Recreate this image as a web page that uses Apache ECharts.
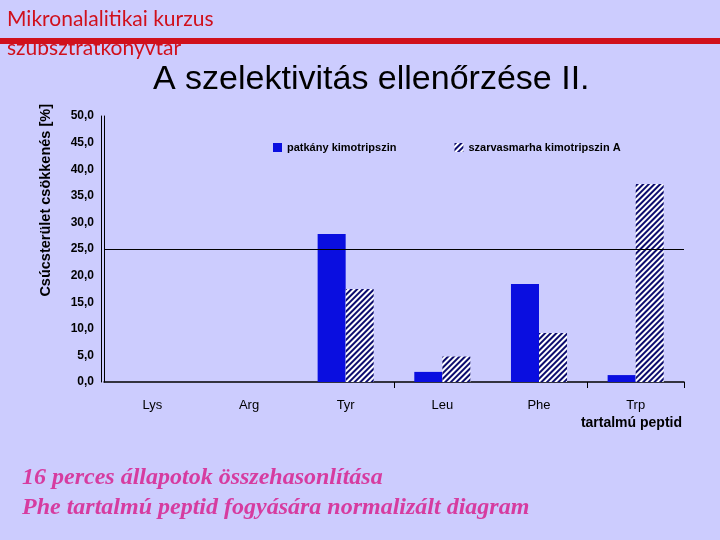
<!DOCTYPE html>
<html>
<head>
<meta charset="utf-8">
<script src="https://cdn.jsdelivr.net/npm/echarts@6/dist/echarts.min.js"></script>
<style>
html,body{margin:0;padding:0;background:#ccccfe;}
#main{width:720px;height:540px;}
</style>
</head>
<body>
<div id="main"></div>
<script>
// adatok
var peptidek = ['Lys', 'Arg', 'Tyr', 'Leu', 'Phe', 'Trp'];
var patkany = [0, 0, 27.8, 1.9, 18.4, 1.3];
var szarvasmarha = [0, 0, 17.5, 4.8, 9.2, 37.2];
var yTicks = ['0,0', '5,0', '10,0', '15,0', '20,0', '25,0', '30,0', '35,0', '40,0', '45,0', '50,0'];
var vonal = 25;

var myChart = echarts.init(document.getElementById('main'));

var option = {
    backgroundColor: '#ccccfe',
    animation: false,
    title: [
        {text: 'Mikronalalitikai kurzus', left: 2, top: 4,
         textStyle: {fontFamily: 'Lato', fontWeight: 'normal', fontSize: 21, color: '#d0101c'}},
        {text: 'szubsztrátkonyvtár', left: 2, top: 33,
         textStyle: {fontFamily: 'Lato', fontWeight: 'normal', fontSize: 21, color: '#d0101c'}},
        {text: 'A szelektivitás ellenőrzése II.', left: 148, top: 58,
         textStyle: {fontFamily: 'Liberation Sans', fontWeight: 'normal', fontSize: 34, color: '#000'}},
        {text: '16 perces állapotok összehasonlítása\nPhe tartalmú peptid fogyására normalizált diagram', left: 17, top: 458,
         textStyle: {fontFamily: 'Liberation Serif', fontStyle: 'italic', fontWeight: 'bold', fontSize: 24, lineHeight: 30, color: '#d63ca0'}}
    ],
    graphic: [
        {type: 'rect', shape: {x: 0, y: 38, width: 720, height: 6}, style: {fill: '#d0101c'}, z: 10},
        {type: 'text', x: 46, y: 104, rotation: Math.PI / 2,
         style: {text: 'Csúcsterület csökkenés [%]', textAlign: 'right', textVerticalAlign: 'middle',
                 fontFamily: 'Liberation Sans', fontWeight: 'bold', fontSize: 14.5, fill: '#000'}}
    ],
    legend: {
        top: 137, left: 268, itemGap: 58, itemWidth: 9, itemHeight: 9, icon: 'rect',
        textStyle: {fontFamily: 'Liberation Sans', fontWeight: 'bold', fontSize: 11, color: '#000'},
        data: ['patkány kimotripszin', 'szarvasmarha kimotripszin A']
    },
    grid: {left: 104, right: 36, top: 116, bottom: 158},
    xAxis: {
        type: 'category',
        data: peptidek,
        name: 'tartalmú peptid',
        nameLocation: 'end',
        nameGap: 0,
        nameTextStyle: {fontFamily: 'Liberation Sans', fontWeight: 'bold', fontSize: 14, color: '#000',
                        align: 'right', verticalAlign: 'top', padding: [34, 2, 0, 0]},
        axisLine: {lineStyle: {color: '#000', width: 1.5}},
        axisTick: {show: true, length: 6, lineStyle: {color: '#000'},
                   interval: function (i) { return i === 3 || i === 5; }},
        axisLabel: {margin: 17, fontFamily: 'Liberation Sans', fontSize: 13, color: '#000'}
    },
    yAxis: [
        {
            type: 'value',
            min: 0, max: 50, interval: 5,
            axisLine: {show: true, lineStyle: {color: '#000', width: 1}},
            axisTick: {show: false},
            splitLine: {show: false},
            axisLabel: {
                margin: 10, fontFamily: 'Liberation Sans', fontWeight: 'bold', fontSize: 12, color: '#000',
                formatter: function (v) { return yTicks[Math.round(v / 5)]; }
            }
        },
        {
            type: 'value',
            position: 'left',
            offset: 3,
            min: 0, max: 50, interval: 5,
            axisLine: {show: true, lineStyle: {color: '#000', width: 1}},
            axisTick: {show: false},
            axisLabel: {show: false},
            splitLine: {show: false}
        }
    ],
    series: [
        {
            name: 'patkány kimotripszin',
            type: 'bar',
            data: patkany,
            barWidth: '29%',
            barGap: '0%',
            itemStyle: {color: '#0a0ee0'},
            markLine: {
                silent: true, symbol: 'none',
                label: {show: false},
                lineStyle: {color: '#000', width: 1, type: 'solid'},
                data: [{yAxis: vonal}]
            }
        },
        {
            name: 'szarvasmarha kimotripszin A',
            type: 'bar',
            data: szarvasmarha,
            barWidth: '29%',
            itemStyle: {
                color: '#ffffff',
                decal: {symbol: 'rect', symbolSize: 1, color: '#0c0c6e',
                        dashArrayX: [1, 0], dashArrayY: [2, 2], rotation: -Math.PI / 4}
            }
        }
    ]
};

myChart.setOption(option);
</script>
</body>
</html>
